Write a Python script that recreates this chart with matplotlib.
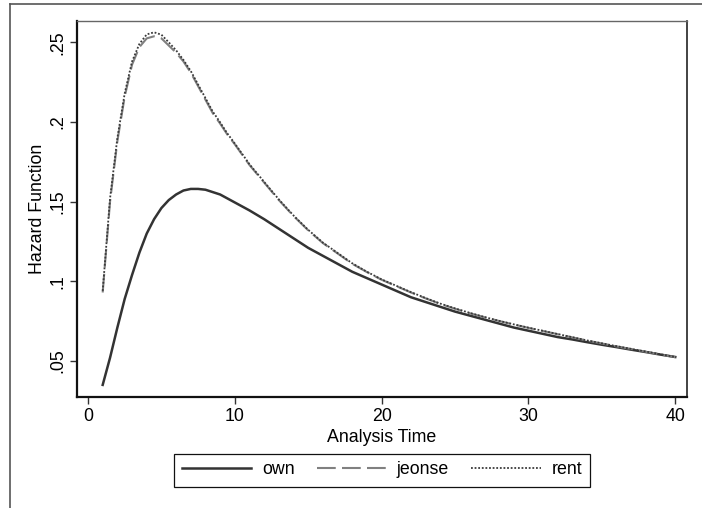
import matplotlib
matplotlib.use("Agg")
import matplotlib.pyplot as plt
from matplotlib.lines import Line2D

plt.rcParams['font.family'] = ['Liberation Sans', 'DejaVu Sans']

# analysis time grid (half steps to 10, then whole units)
times = [1.0, 1.5, 2.0, 2.5, 3.0, 3.5, 4.0, 4.5, 5.0, 5.5, 6.0, 6.5, 7.0, 7.5,
         8.0, 8.5, 9.0, 9.5, 10.0, 11, 12, 13, 14, 15, 16, 17, 18, 19, 20,
         21, 22, 23, 24, 25, 26, 27, 28, 29, 30, 31, 32, 33, 34, 35, 36, 37,
         38, 39, 40]

# hazard estimates
own = [.035, .052, .071, .089, .104, .118, .130, .139, .146, .151, .1545, .157,
       .158, .158, .1575, .156, .1545, .152, .1495, .1445, .139, .133, .127,
       .121, .116, .111, .106, .102, .098, .094, .090, .087, .084, .081, .0785,
       .076, .0735, .071, .069, .067, .065, .0635, .0618, .0602, .0587, .0571,
       .0556, .054, .0525]
jeonse = [.093, .150, .188, .216, .236, .247, .2525, .2538, .2525, .248, .2435,
          .238, .231, .2225, .214, .2055, .199, .192, .186, .173, .162, .151,
          .141, .132, .124, .1175, .111, .1058, .101, .097, .093, .0893, .0858,
          .0828, .080, .0775, .0751, .0729, .0708, .0688, .0668, .0648, .0628,
          .061, .0592, .0575, .0558, .0541, .0524]
rent = [.094, .152, .190, .218, .238, .249, .255, .2563, .2548, .250, .245,
        .239, .232, .2235, .215, .2065, .1998, .1927, .1865, .1735, .1624,
        .1514, .1413, .1323, .1243, .1178, .1113, .106, .1012, .0972, .0932,
        .0895, .086, .083, .0802, .0776, .0752, .073, .0709, .0689, .0669,
        .0649, .0629, .0611, .0593, .0576, .0559, .0542, .0525]

yticks = [.05, .1, .15, .2, .25]
ytick_labels = ['.05', '.1', '.15', '.2', '.25']
xticks = [0, 10, 20, 30, 40]

fs = 12.8

fig = plt.figure(figsize=(7.02, 5.08), dpi=100)
ax = fig.add_axes([77 / 702, 1 - 397 / 508, 610 / 702, 376 / 508])

ax.plot(times, own, color='#333333', lw=1.8, label='own')
ax.plot(times, jeonse, color='#808080', lw=1.5, dashes=(9, 3), label='jeonse')
ax.plot(times, rent, color='#3a3a3a', lw=1.3, linestyle=(0, (1, 1)), label='rent')

ax.set_xlim(-0.75, 40.8)
ax.set_ylim(0.0274, 0.2634)
ax.set_xticks(xticks)
ax.set_yticks(yticks)
ax.set_yticklabels(ytick_labels, rotation=90, va='center')
ax.tick_params(direction='out', length=5, width=1, color='#333333',
               labelsize=fs, pad=3)

for side in ['left', 'bottom']:
    ax.spines[side].set_linewidth(1.6)
    ax.spines[side].set_color('#111111')
ax.spines['top'].set_linewidth(1.0)
ax.spines['top'].set_color('#666666')
ax.spines['right'].set_linewidth(1.2)
ax.spines['right'].set_color('#222222')

ax.set_xlabel('Analysis Time', fontsize=fs, labelpad=3)
ax.set_ylabel('Hazard Function', fontsize=fs, labelpad=2)

leg = fig.legend(loc='center', bbox_to_anchor=(382 / 702, 1 - 470 / 508),
                 ncol=3, fontsize=fs, handlelength=3.9, handletextpad=0.6,
                 columnspacing=1.25, fancybox=False, framealpha=1,
                 borderpad=0.45)
leg.get_frame().set_edgecolor('#111111')
leg.get_frame().set_linewidth(0.9)

# outer graph region border (cut off at right and bottom)
fig.add_artist(Line2D([10 / 702, 10 / 702], [0, 1 - 4 / 508],
                      transform=fig.transFigure, color='#555555', lw=1.2))
fig.add_artist(Line2D([10 / 702, 1], [1 - 4 / 508, 1 - 4 / 508],
                      transform=fig.transFigure, color='#555555', lw=1.2))

fig.savefig('out.png', dpi=100)
